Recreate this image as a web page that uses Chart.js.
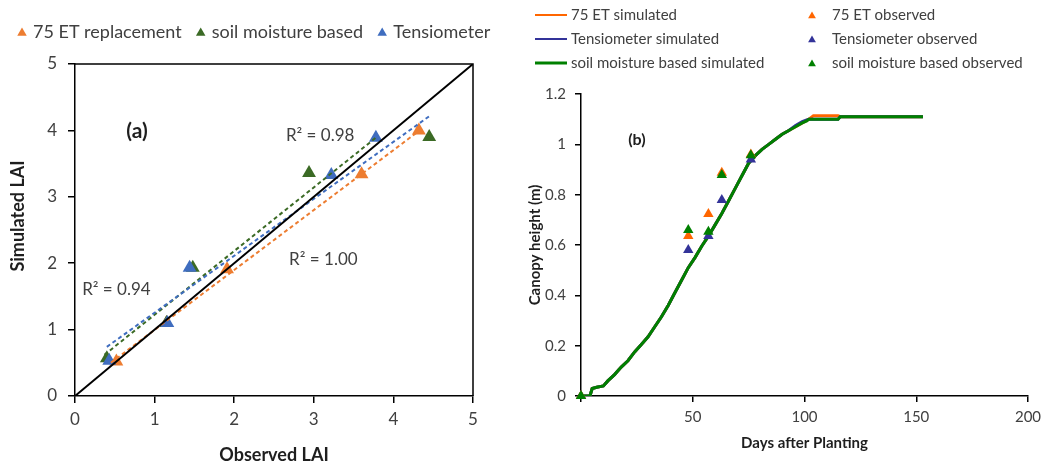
<!DOCTYPE html>
<html>
<head>
<meta charset="utf-8">
<script src="https://cdn.jsdelivr.net/npm/chart.js@4.4.1/dist/chart.umd.min.js"></script>
<style>
  html, body { margin: 0; padding: 0; background: #ffffff; }
  #wrap { position: relative; width: 1053px; height: 468px; overflow: hidden; }
  #paneA { position: absolute; left: 0; top: 0; width: 520px; height: 468px; }
  #paneB { position: absolute; left: 520px; top: 0; width: 533px; height: 468px; }
</style>
</head>
<body>
<div id="wrap">
  <div id="paneA"><canvas id="laiChart" width="520" height="468"></canvas></div>
  <div id="paneB"><canvas id="heightChart" width="533" height="468"></canvas></div>
</div>
<script>
// ---------- Panel (a): observed vs simulated leaf area index ----------
const laiObs75   = [0.52, 1.15, 1.91, 3.60, 4.32];
const laiSim75   = [0.52, 1.10, 1.91, 3.34, 4.00];
const laiObsSoil = [0.40, 1.15, 1.48, 2.94, 4.45];
const laiSimSoil = [0.57, 1.10, 1.93, 3.36, 3.90];
const laiObsTens = [0.43, 1.16, 1.44, 3.22, 3.78];
const laiSimTens = [0.53, 1.10, 1.93, 3.33, 3.89];

// linear trend lines, end points
const fit75X   = [0.45, 4.33], fit75Y   = [0.50, 4.00];
const fitSoilX = [0.37, 3.79], fitSoilY = [0.62, 3.90];
const fitTensX = [0.40, 4.47], fitTensY = [0.74, 4.23];
const oneToOne = [0, 5];

const laiSeriesNames = ['75 ET replacement', 'soil moisture based', 'Tensiometer'];
const r2Text = ['R² = 0.98', 'R² = 1.00', 'R² = 0.94'];

// ---------- Panel (b): canopy height over the season ----------
const simDays = [0, 4, 5, 7, 10, 12, 15, 18, 21, 24, 27, 30, 33, 36, 39, 42, 45, 48, 51, 54, 57,
                 60, 63, 66, 69, 72, 75, 78, 81, 84, 87, 90, 93, 96, 99, 101, 102, 104, 115, 116, 153];
const simSoil = [0, 0, 0.03, 0.035, 0.04, 0.06, 0.085, 0.115, 0.14, 0.175, 0.205, 0.235, 0.275, 0.315,
                 0.36, 0.41, 0.46, 0.51, 0.55, 0.595, 0.635, 0.68, 0.725, 0.775, 0.825, 0.875, 0.925, 0.955,
                 0.98, 1.0, 1.02, 1.04, 1.055, 1.07, 1.085, 1.093, 1.10, 1.10, 1.10, 1.11, 1.11];
const sim75   = [0, 0, 0.03, 0.035, 0.04, 0.06, 0.085, 0.115, 0.14, 0.175, 0.205, 0.235, 0.275, 0.315,
                 0.36, 0.41, 0.46, 0.51, 0.55, 0.595, 0.635, 0.68, 0.725, 0.775, 0.825, 0.875, 0.925, 0.955,
                 0.98, 1.0, 1.02, 1.04, 1.055, 1.07, 1.085, 1.095, 1.10, 1.114, 1.114, 1.11, 1.11];
const simTens = [0, 0, 0.03, 0.035, 0.04, 0.06, 0.085, 0.115, 0.14, 0.175, 0.205, 0.235, 0.275, 0.315,
                 0.36, 0.41, 0.46, 0.51, 0.55, 0.595, 0.635, 0.68, 0.725, 0.775, 0.825, 0.875, 0.925, 0.955,
                 0.98, 1.0, 1.02, 1.04, 1.055, 1.075, 1.09, 1.097, 1.10, 1.10, 1.10, 1.11, 1.11];

const obsDays  = [0, 48, 57, 63, 76];
const obsH75   = [0, 0.636, 0.723, 0.887, 0.96];
const obsHTens = [0, 0.58, 0.636, 0.779, 0.94];
const obsHSoil = [0, 0.66, 0.653, 0.878, 0.957];

const heightSeriesNames = [
  ['75 ET simulated', '75 ET observed'],
  ['Tensiometer simulated', 'Tensiometer observed'],
  ['soil moisture based simulated', 'soil moisture based observed']
];

// ---------- helpers ----------
const pts = (xs, ys) => xs.map((x, i) => ({ x: x, y: ys[i] }));
const FONT = 'Lato, "Open Sans", sans-serif';
const TEXT = '#404040';

const colA = { et: '#ED7D31', soil: '#3B6A25', tens: '#3F6DBF' };
const colB = { et: '#FF6600', soil: '#008000', tens: '#333399' };

// free text placed in data coordinates
const textMarks = {
  id: 'textMarks',
  afterDraw(chart, args, opts) {
    const ctx = chart.ctx, xs = chart.scales.x, ys = chart.scales.y;
    ctx.save();
    (opts.items || []).forEach(t => {
      ctx.font = t.font;
      ctx.fillStyle = t.color || TEXT;
      ctx.textAlign = t.align || 'left';
      ctx.textBaseline = 'middle';
      ctx.fillText(t.text, xs.getPixelForValue(t.x), ys.getPixelForValue(t.y));
    });
    ctx.restore();
  }
};

// frame around the plot of panel (a) and its rotated y title
const frameA = {
  id: 'frameA',
  afterDraw(chart, args, opts) {
    const ctx = chart.ctx, a = chart.chartArea;
    ctx.save();
    ctx.strokeStyle = '#000';
    ctx.lineWidth = 1.5;
    ctx.beginPath();
    ctx.moveTo(a.left, a.top); ctx.lineTo(a.right, a.top); ctx.lineTo(a.right, a.bottom);
    ctx.stroke();
    ctx.translate(opts.titleX, opts.titleY);
    ctx.rotate(-Math.PI / 2);
    ctx.font = 'bold 18px ' + FONT;
    ctx.fillStyle = '#1e1e1e';
    ctx.textAlign = 'center';
    ctx.textBaseline = 'middle';
    ctx.fillText(opts.title, 0, 0);
    ctx.restore();
  }
};

function tri(ctx, x, y, r, color) {
  ctx.fillStyle = color;
  ctx.beginPath();
  ctx.moveTo(x, y - r);
  ctx.lineTo(x + r * Math.sin(2 * Math.PI / 3), y + r / 2);
  ctx.lineTo(x - r * Math.sin(2 * Math.PI / 3), y + r / 2);
  ctx.closePath();
  ctx.fill();
}

// single-row legend above panel (a)
const legendA = {
  id: 'legendA',
  afterDraw(chart, args, opts) {
    const ctx = chart.ctx;
    ctx.save();
    ctx.font = '18px ' + FONT;
    ctx.textBaseline = 'middle';
    ctx.textAlign = 'left';
    let x = opts.x;
    opts.items.forEach(it => {
      tri(ctx, x + 5, opts.y + 1, 5.5, it.color);
      x += 16;
      ctx.fillStyle = TEXT;
      ctx.fillText(it.text, x, opts.y);
      x += ctx.measureText(it.text).width + 14;
    });
    ctx.restore();
  }
};

// two-column legend above panel (b)
const legendB = {
  id: 'legendB',
  afterDraw(chart, args, opts) {
    const ctx = chart.ctx;
    ctx.save();
    ctx.font = '15px ' + FONT;
    ctx.textBaseline = 'middle';
    ctx.textAlign = 'left';
    opts.rows.forEach((row, i) => {
      const y = opts.y0 + i * opts.dy;
      ctx.strokeStyle = row.color;
      ctx.lineWidth = row.width;
      ctx.beginPath();
      ctx.moveTo(opts.lineX0, y); ctx.lineTo(opts.lineX1, y);
      ctx.stroke();
      ctx.fillStyle = TEXT;
      ctx.fillText(row.sim, opts.lineX1 + 4, y);
      tri(ctx, opts.triX, y + 1, 4.5, row.color);
      ctx.fillStyle = TEXT;
      ctx.fillText(row.obs, opts.triX + 20, y);
    });
    ctx.restore();
  }
};

const markerA = (label, xs, ys, color) => ({
  label: label, data: pts(xs, ys), pointStyle: 'triangle', pointRadius: 8,
  backgroundColor: color, borderWidth: 0, showLine: false, clip: false
});
const trendA = (xs, ys, color) => ({
  data: pts(xs, ys), borderColor: color, borderWidth: 2, borderDash: [4, 3],
  pointRadius: 0, showLine: true, fill: false
});

// ---------- chart (a) ----------
new Chart(document.getElementById('laiChart'), {
  type: 'scatter',
  data: {
    datasets: [
      { data: pts(oneToOne, oneToOne), borderColor: '#000', borderWidth: 2, pointRadius: 0, showLine: true },
      trendA(fitTensX, fitTensY, colA.tens),
      trendA(fitSoilX, fitSoilY, colA.soil),
      trendA(fit75X, fit75Y, colA.et),
      markerA(laiSeriesNames[2], laiObsTens, laiSimTens, colA.tens),
      markerA(laiSeriesNames[1], laiObsSoil, laiSimSoil, colA.soil),
      markerA(laiSeriesNames[0], laiObs75, laiSim75, colA.et)
    ]
  },
  options: {
    responsive: false,
    animation: false,
    events: [],
    layout: { padding: { top: 64, right: 47, left: 0, bottom: 0 } },
    plugins: {
      legend: { display: false },
      tooltip: { enabled: false },
      textMarks: {
        items: [
          { text: '(a)', x: 0.78, y: 3.98, font: 'bold 21px ' + FONT, color: '#1e1e1e', align: 'center' },
          { text: r2Text[0], x: 2.65, y: 3.92, font: '17px ' + FONT },
          { text: r2Text[1], x: 2.69, y: 2.05, font: '17px ' + FONT },
          { text: r2Text[2], x: 0.09, y: 1.60, font: '17px ' + FONT }
        ]
      },
      frameA: { title: 'Simulated LAI', titleX: 18, titleY: 216 },
      legendA: {
        x: 17, y: 32,
        items: [
          { text: laiSeriesNames[0], color: colA.et },
          { text: laiSeriesNames[1], color: colA.soil },
          { text: laiSeriesNames[2], color: colA.tens }
        ]
      }
    },
    scales: {
      x: {
        type: 'linear', min: 0, max: 5,
        ticks: { stepSize: 1, color: TEXT, font: { family: FONT, size: 17 }, padding: 6 },
        grid: { drawOnChartArea: false, drawTicks: true, tickLength: 7, color: '#000', lineWidth: 1.5 },
        border: { color: '#000', width: 1.5 },
        title: { display: true, text: 'Observed LAI', color: '#1e1e1e',
                 font: { family: FONT, size: 18, weight: 'bold' }, padding: { top: 0, bottom: 2 } },
        afterFit: s => { s.height = 72; }
      },
      y: {
        type: 'linear', min: 0, max: 5,
        ticks: { stepSize: 1, color: TEXT, font: { family: FONT, size: 17 }, padding: 11 },
        grid: { drawOnChartArea: false, drawTicks: true, tickLength: 7, color: '#000', lineWidth: 1.5 },
        border: { color: '#000', width: 1.5 },
        afterFit: s => { s.width = 75; }
      }
    }
  },
  plugins: [textMarks, frameA, legendA]
});

// ---------- chart (b) ----------
const markerB = (xs, ys, color) => ({
  data: pts(xs, ys), pointStyle: 'triangle', pointRadius: 6,
  backgroundColor: color, borderWidth: 0, showLine: false, clip: false
});
const curveB = (ys, color, width) => ({
  data: pts(simDays, ys), borderColor: color, borderWidth: width,
  pointRadius: 0, showLine: true, fill: false
});

new Chart(document.getElementById('heightChart'), {
  type: 'scatter',
  data: {
    datasets: [
      markerB(obsDays, obsHSoil, colB.soil),
      markerB(obsDays, obsH75, colB.et),
      markerB(obsDays, obsHTens, colB.tens),
      curveB(simSoil, colB.soil, 3),
      curveB(simTens, colB.tens, 3),
      curveB(sim75, colB.et, 3)
    ]
  },
  options: {
    responsive: false,
    animation: false,
    events: [],
    layout: { padding: { top: 94, right: 25, left: 0, bottom: 0 } },
    plugins: {
      legend: { display: false },
      tooltip: { enabled: false },
      textMarks: {
        items: [
          { text: '(b)', x: 25, y: 1.017, font: 'bold 16px ' + FONT, color: '#1e1e1e', align: 'center' }
        ]
      },
      legendB: {
        y0: 15, dy: 24, lineX0: 15, lineX1: 47, triX: 292,
        rows: [
          { sim: heightSeriesNames[0][0], obs: heightSeriesNames[0][1], color: colB.et, width: 2 },
          { sim: heightSeriesNames[1][0], obs: heightSeriesNames[1][1], color: colB.tens, width: 2 },
          { sim: heightSeriesNames[2][0], obs: heightSeriesNames[2][1], color: colB.soil, width: 3 }
        ]
      }
    },
    scales: {
      x: {
        type: 'linear', min: 0, max: 200,
        ticks: { stepSize: 50, color: TEXT, font: { family: FONT, size: 15 }, padding: 6,
                 callback: v => (v === 0 ? '' : v) },
        grid: { drawOnChartArea: false, drawTicks: true, tickLength: 6, color: '#000', lineWidth: 1.5 },
        border: { color: '#000', width: 1.5 },
        title: { display: true, text: 'Days after Planting', color: '#1e1e1e',
                 font: { family: FONT, size: 15, weight: 'bold' }, padding: { top: 0, bottom: 16 } },
        afterFit: s => { s.height = 72; }
      },
      y: {
        type: 'linear', min: 0, max: 1.2,
        ticks: { stepSize: 0.2, color: TEXT, font: { family: FONT, size: 15 }, padding: 9,
                 callback: v => String(Math.round(v * 10) / 10) },
        grid: { drawOnChartArea: false, drawTicks: true, tickLength: 6, color: '#000', lineWidth: 1.5 },
        border: { color: '#000', width: 1.5 },
        title: { display: true, text: 'Canopy height (m)', color: '#1e1e1e',
                 font: { family: FONT, size: 15, weight: 'bold' }, padding: { top: 6, bottom: 0 } },
        afterFit: s => { s.width = 61; }
      }
    }
  },
  plugins: [textMarks, legendB]
});
</script>
</body>
</html>
